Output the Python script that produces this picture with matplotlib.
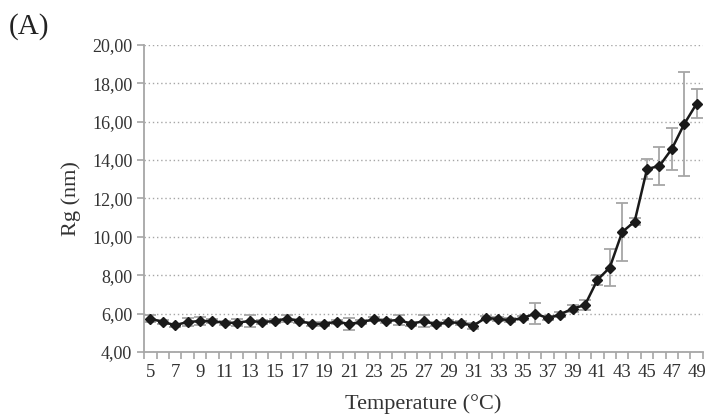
import matplotlib
matplotlib.use("Agg")
import matplotlib.pyplot as plt
from matplotlib.ticker import FuncFormatter

# temperatures (°C) and measured radius of gyration
temps = list(range(5, 50))
rg = [5.74, 5.56, 5.40, 5.56, 5.61, 5.61, 5.51, 5.53, 5.61, 5.56,
      5.61, 5.74, 5.61, 5.47, 5.46, 5.58, 5.46, 5.56, 5.70, 5.61,
      5.67, 5.47, 5.60, 5.44, 5.55, 5.51, 5.37, 5.77, 5.72, 5.65,
      5.77, 6.00, 5.76, 5.95, 6.26, 6.44, 7.75, 8.40, 10.25, 10.79,
      13.53, 13.69, 14.58, 15.88, 16.94]
rg_err = [0.20, 0.08, 0.08, 0.20, 0.20, 0.10, 0.10, 0.20, 0.30, 0.08,
          0.10, 0.20, 0.10, 0.10, 0.10, 0.10, 0.30, 0.10, 0.10, 0.10,
          0.25, 0.10, 0.30, 0.10, 0.10, 0.10, 0.15, 0.10, 0.10, 0.10,
          0.10, 0.55, 0.12, 0.15, 0.18, 0.26, 0.25, 0.95, 1.50, 0.20,
          0.50, 1.00, 1.10, 2.70, 0.77]

plt.rcParams['font.family'] = ['Liberation Serif', 'DejaVu Serif']

fig = plt.figure(figsize=(7.1, 4.19), dpi=100)
ax = fig.add_axes([0.203, 0.16, 0.787, 0.733])

pos = list(range(len(temps)))
ax.errorbar(pos, rg, yerr=rg_err, fmt='none', ecolor='#a6a6a6',
            elinewidth=1.3, capsize=4, capthick=1.3, zorder=2)
ax.plot(pos, rg, color='#1a1a1a', lw=1.8, marker='D', ms=5.5, zorder=3)

ax.set_xlim(-0.5, len(temps) - 0.5)
ax.set_ylim(4, 20)
ax.set_yticks(range(4, 21, 2))
ax.yaxis.set_major_formatter(FuncFormatter(lambda v, p: f"{v:.2f}".replace('.', ',')))
ax.set_xticks(pos[::2])
ax.set_xticklabels([str(t) for t in temps[::2]])
ax.set_xticks([p - 0.5 for p in pos] + [pos[-1] + 0.5], minor=True)

ax.grid(axis='y', color='#a6a6a6', linestyle=(0, (1, 2)), lw=1)
ax.set_axisbelow(True)
for s in ['top', 'right']:
    ax.spines[s].set_visible(False)
for s in ['left', 'bottom']:
    ax.spines[s].set_color('#a6a6a6')
    ax.spines[s].set_linewidth(1.3)

ax.tick_params(axis='x', which='major', length=0, pad=9, labelsize=13.5, colors='#333333')
ax.tick_params(axis='x', which='minor', length=5, width=1.2, color='#a6a6a6')
ax.tick_params(axis='y', length=5, width=1.2, color='#a6a6a6', labelsize=13,
               labelcolor='#333333')

ax.set_xlabel('Temperature (°C)', fontsize=16, color='#333333', labelpad=9)
ax.set_ylabel('Rg (nm)', fontsize=16, color='#333333', labelpad=8)
fig.text(0.012, 0.92, '(A)', fontsize=21, color='#222222')

fig.savefig('out.png', dpi=100)
